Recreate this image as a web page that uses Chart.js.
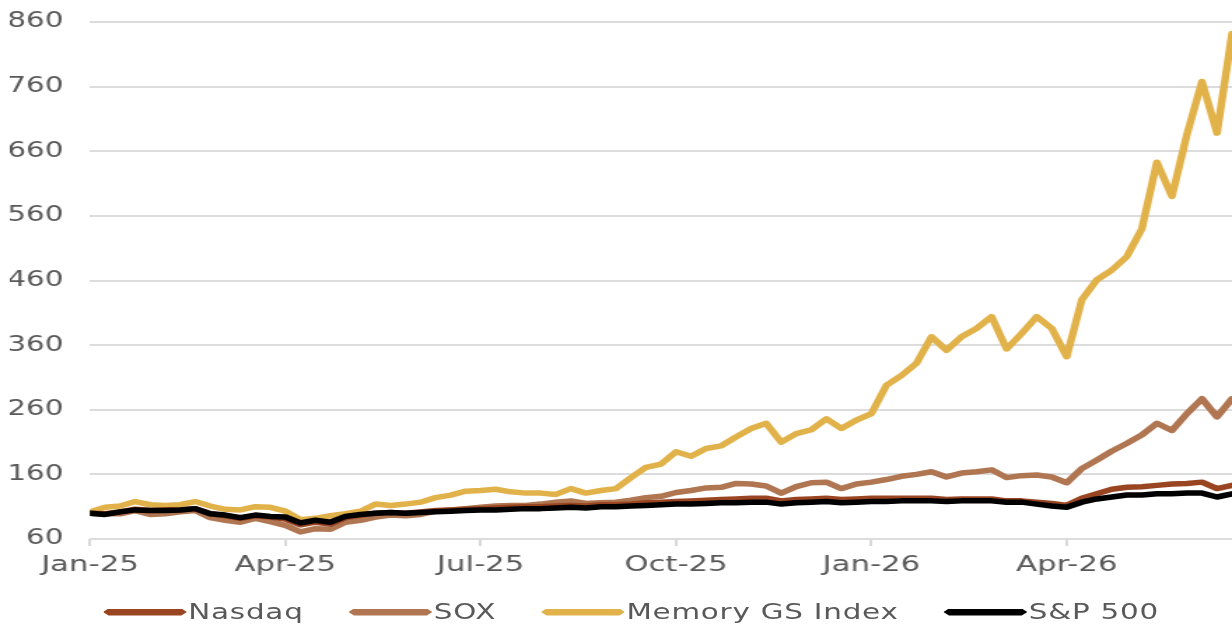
<!DOCTYPE html>
<html>
<head>
<meta charset="utf-8">
<script src="https://cdn.jsdelivr.net/npm/chart.js@4.4.1/dist/chart.umd.min.js"></script>
<style>
  html, body { margin: 0; padding: 0; background: #fff; overflow: hidden; }
  #wrap {
    position: absolute; left: 0; top: 0;
    width: 880px; height: 626px;
    transform: scaleX(1.4); transform-origin: 0 0;
  }
  #chart { position: absolute; left: 0; top: 0; }
  #legend {
    position: absolute; left: 0; top: 600px; width: 880px; height: 24px;
    display: flex; justify-content: flex-start; align-items: center;
    padding-left: 73.5px; box-sizing: border-box;
    font-family: "DejaVu Sans", sans-serif; font-size: 21px; letter-spacing: 0.55px;
    line-height: 24px; color: #595959;
  }
  .item { display: flex; align-items: center; margin-right: 32px; white-space: nowrap; }
  .swatch {
    width: 60px; height: 7px; margin-right: 1px;
    clip-path: polygon(0 50%, 4px 0, calc(100% - 4px) 0, 100% 50%, calc(100% - 4px) 100%, 4px 100%);
  }
</style>
</head>
<body>
<div id="wrap">
  <canvas id="chart" width="880" height="590"></canvas>
  <div id="legend"></div>
</div>
<script>
// weekly points, week 0 = first week of Jan-25
var tickWeeks = [0, 13, 26, 39, 52, 65];
var tickLabels = ['Jan-25', 'Apr-25', 'Jul-25', 'Oct-25', 'Jan-26', 'Apr-26'];

var seriesNames = ['Nasdaq', 'SOX', 'Memory GS Index', 'S&P 500'];
var seriesColors = ['#9a4522', '#b07652', '#e2b24a', '#000000'];

var nasdaq = [100, 99, 102, 106, 104, 105, 105, 107, 99, 96, 92, 96, 94, 91, 82, 86, 83, 93, 97, 100, 101, 100,
  102, 104, 105, 106, 107, 108, 109, 110, 110, 111, 112, 111, 113, 113, 114, 116, 117, 118, 119, 120, 121,
  122, 123, 123, 119, 121, 122, 123, 121, 122, 123, 123, 123, 123, 123, 121, 122, 122, 122, 119, 119,
  117, 115, 112, 123, 130, 137, 140, 141, 143, 145, 146, 148, 138, 143];

var sox = [100, 99, 99, 104, 98, 99, 102, 104, 93, 89, 86, 92, 87, 81, 71, 76, 75, 86, 89, 94, 97, 96,
  98, 103, 105, 107, 109, 111, 112, 112, 114, 117, 119, 115, 116, 117, 120, 124, 126, 132, 135, 139, 140,
  146, 145, 142, 131, 141, 147, 148, 138, 145, 148, 152, 157, 160, 164, 156, 162, 164, 167, 155, 158,
  159, 156, 147, 169, 182, 196, 208, 221, 239, 228, 254, 277, 249, 277];

var memory = [102, 109, 111, 118, 113, 112, 113, 118, 111, 106, 105, 110, 109, 103, 90, 92, 96, 99, 103, 114, 112, 114,
  117, 124, 128, 134, 135, 137, 133, 131, 131, 129, 138, 131, 135, 138, 155, 171, 176, 195, 188, 200, 204,
  218, 231, 239, 210, 223, 229, 246, 231, 244, 254, 298, 313, 332, 373, 352, 373, 386, 404, 354, 378,
  404, 386, 342, 430, 461, 476, 497, 540, 643, 590, 686, 768, 688, 842];

var sp500 = [100, 98, 102, 105, 104, 104, 105, 107, 99, 97, 93, 97, 95, 94, 85, 89, 86, 95, 98, 100, 101, 100,
  101, 102, 103, 104, 105, 105, 106, 107, 107, 108, 109, 108, 110, 110, 111, 112, 113, 114, 114, 115, 116,
  116, 117, 117, 114, 116, 117, 118, 116, 117, 118, 118, 119, 119, 119, 118, 119, 119, 119, 117, 117,
  114, 111, 109, 117, 122, 125, 128, 128, 130, 130, 131, 131, 125, 130];

var allSeries = [nasdaq, sox, memory, sp500];
var drawOrder = [1, 3, 2, 0]; // S&P on top

var textColor = '#595959';
var fontFamily = '"DejaVu Sans", sans-serif';

var datasets = allSeries.map(function(vals, i) {
  return {
    label: seriesNames[i],
    data: vals.map(function(v, w) { return { x: w, y: v }; }),
    borderColor: seriesColors[i],
    backgroundColor: seriesColors[i],
    borderWidth: 5.5,
    pointRadius: 0,
    tension: 0,
    order: drawOrder[i]
  };
});

new Chart(document.getElementById('chart').getContext('2d'), {
  type: 'line',
  data: { datasets: datasets },
  options: {
    responsive: false,
    animation: false,
    devicePixelRatio: 1,
    layout: { padding: { top: 22, left: 7, right: 0, bottom: 11.6 } },
    plugins: { legend: { display: false }, tooltip: { enabled: false } },
    elements: { line: { borderJoinStyle: 'round', borderCapStyle: 'round' } },
    scales: {
      x: {
        type: 'linear',
        min: 0,
        max: 76,
        afterBuildTicks: function(axis) {
          axis.ticks = tickWeeks.map(function(v) { return { value: v }; });
        },
        afterFit: function(scale) {
          scale.height = 39.4;
          scale.paddingLeft = 0;
          scale.paddingRight = 0;
        },
        ticks: {
          autoSkip: false,
          maxRotation: 0,
          padding: 6,
          color: textColor,
          font: { family: fontFamily, size: 22 },
          callback: function(v) { return tickLabels[tickWeeks.indexOf(v)]; }
        },
        grid: { drawOnChartArea: false, drawTicks: true, tickLength: 7, color: '#d9d9d9', lineWidth: 2 },
        border: { display: false }
      },
      y: {
        min: 60,
        max: 860,
        afterFit: function(scale) {
          scale.width = 57.3;
          scale.paddingTop = 0;
          scale.paddingBottom = 0;
        },
        ticks: { stepSize: 100, padding: 19, color: textColor, font: { family: fontFamily, size: 21 } },
        grid: { color: '#dcdcdc', lineWidth: 2, drawTicks: false },
        border: { display: false }
      }
    }
  }
});

// legend below the chart
var legend = document.getElementById('legend');
seriesNames.forEach(function(name, i) {
  var item = document.createElement('div');
  item.className = 'item';
  var sw = document.createElement('span');
  sw.className = 'swatch';
  sw.style.background = seriesColors[i];
  var txt = document.createElement('span');
  txt.textContent = name;
  item.appendChild(sw);
  item.appendChild(txt);
  legend.appendChild(item);
});
</script>
</body>
</html>
